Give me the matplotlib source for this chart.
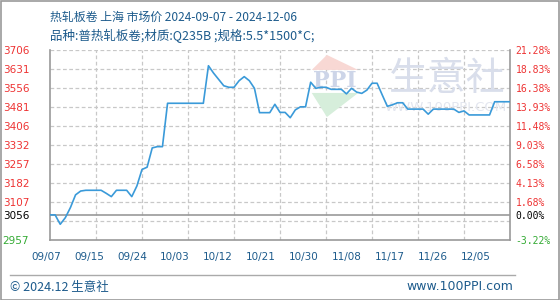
import matplotlib.pyplot as plt
from matplotlib.patches import Polygon

plt.rcParams['font.family'] = ['Noto Sans CJK SC', 'DejaVu Sans']

# daily prices, 2024-09-07 .. 2024-12-06
prices = [3056, 3056, 3019, 3045, 3085, 3135, 3150, 3153, 3153, 3153,
          3153, 3141, 3128, 3153, 3153, 3153, 3128, 3170, 3235, 3244,
          3320, 3325, 3325, 3496, 3496, 3496, 3496, 3496, 3496, 3496,
          3496, 3644, 3615, 3590, 3565, 3559, 3559, 3585, 3601, 3585,
          3555, 3459, 3459, 3459, 3492, 3460, 3460, 3439, 3470, 3482,
          3482, 3579, 3555, 3559, 3559, 3551, 3551, 3551, 3533, 3555,
          3540, 3535, 3548, 3575, 3575, 3529, 3484, 3490, 3498, 3498,
          3473, 3473, 3473, 3473, 3453, 3473, 3473, 3473, 3473, 3473,
          3460, 3466, 3450, 3450, 3450, 3450, 3450, 3502, 3502, 3502,
          3502]
base = 3056
y_ticks = [3706, 3631, 3556, 3481, 3406, 3332, 3257, 3182, 3107, 3056, 2957]
pct_labels = ['21.28%', '18.83%', '16.38%', '13.93%', '11.48%', '9.03%',
              '6.58%', '4.13%', '1.68%', '0.00%', '-3.22%']
x_labels = ['09/07', '09/15', '09/24', '10/03', '10/12', '10/21',
            '10/30', '11/08', '11/17', '11/26', '12/05']

ymin, ymax = 2957, 3706
n = len(prices) - 1
blue = '#1d5b8c'

def tick_color(v):
    if v == base:
        return 'black'
    return '#33aa33' if v < base else '#ee3333'

fig = plt.figure(figsize=(5.6, 3.0), dpi=100)
ax = fig.add_axes([50/560, 60/300, 460/560, 190/300])
ax.set_xlim(0, n)
ax.set_ylim(ymin, ymax)

# dashed grid
step = (ymax - ymin) / 10
for k in range(1, 11):
    ax.axhline(ymin + k*step, color='#c8c8c8', lw=0.9, ls=(0, (3, 2)), zorder=1)
for k in range(1, 10):
    ax.axvline(k*n/10, color='#c8c8c8', lw=0.9, ls=(0, (3, 2)), zorder=1)
ax.axhline(base, color='#999999', lw=1.2, zorder=2)

# watermark
ax.add_patch(Polygon([(0.569, 0.895), (0.602, 0.974), (0.670, 0.895)], closed=True,
                     transform=ax.transAxes, color='#f8d8d4', zorder=1, lw=0))
ax.add_patch(Polygon([(0.569, 0.774), (0.602, 0.647), (0.670, 0.774)], closed=True,
                     transform=ax.transAxes, color='#d6eedb', zorder=1, lw=0))
ax.text(0.62, 0.835, 'PPI', transform=ax.transAxes, ha='center', va='center',
        fontsize=16, color='#cdd5e8', fontweight='bold', zorder=1, family='DejaVu Serif')
ax.text(0.863, 0.85, '生意社', transform=ax.transAxes, ha='center', va='center',
        fontsize=28, color='#d9deeb', zorder=1)
ax.text(0.86, 0.70, 'WWW.100PPI.COM', transform=ax.transAxes, ha='center', va='center',
        fontsize=9.5, color='#e3e6ef', zorder=1, family='DejaVu Sans')

ax.plot(range(len(prices)), prices, color='#3a9ad9', lw=1.2, zorder=3)

ax.spines['top'].set_visible(False)
for s in ['left', 'bottom', 'right']:
    ax.spines[s].set_color('#999999')
    ax.spines[s].set_linewidth(1.2)

# left labels
ax.set_yticks(y_ticks)
ax.set_yticklabels([str(v) for v in y_ticks], family='DejaVu Sans')
ax.tick_params(axis='y', length=0, labelsize=7.5, pad=15)
for lab, v in zip(ax.get_yticklabels(), y_ticks):
    lab.set_color(tick_color(v))

# bottom labels, offset from the grid like the original
ax.set_xticks([])
for i, lab in enumerate(x_labels):
    ax.text(-0.78 + i*8.41, -0.089, lab, transform=ax.get_xaxis_transform(),
            ha='center', va='center', fontsize=7.5, color=blue,
            family='DejaVu Sans', clip_on=False)

# right percent labels
ax2 = ax.twinx()
ax2.set_ylim(ymin, ymax)
ax2.set_yticks(y_ticks)
ax2.set_yticklabels(pct_labels, family='DejaVu Sans Mono')
ax2.tick_params(axis='y', length=0, labelsize=7, pad=4)
for lab, v in zip(ax2.get_yticklabels(), y_ticks):
    lab.set_color(tick_color(v))
for s in ax2.spines.values():
    s.set_visible(False)

# titles and footer
fig.text(50/560, 1 - 17/300, '热轧板卷 上海 市场价 2024-09-07 - 2024-12-06',
         fontsize=8.6, color=blue, va='center')
fig.text(50/560, 1 - 36/300, '品种:普热轧板卷;材质:Q235B ;规格:5.5*1500*C;',
         fontsize=9, color=blue, va='center')
fig.add_artist(plt.Line2D([10/560, 515/560], [1 - 275/300]*2, color='#aaaaaa', lw=1))
fig.text(10/560, 1 - 287/300, '© 2024.12 生意社', fontsize=9, color=blue, va='center')
fig.text(513/560, 1 - 287/300, 'www.100PPI.com', fontsize=9, color=blue,
         va='center', ha='right', family='DejaVu Sans')
fig.add_artist(plt.Rectangle((0.5/560, 0.5/300), 558.5/560, 298.5/300, fill=False,
                             edgecolor='#999999', lw=1.2, transform=fig.transFigure))

fig.savefig('out.png', dpi=100)
